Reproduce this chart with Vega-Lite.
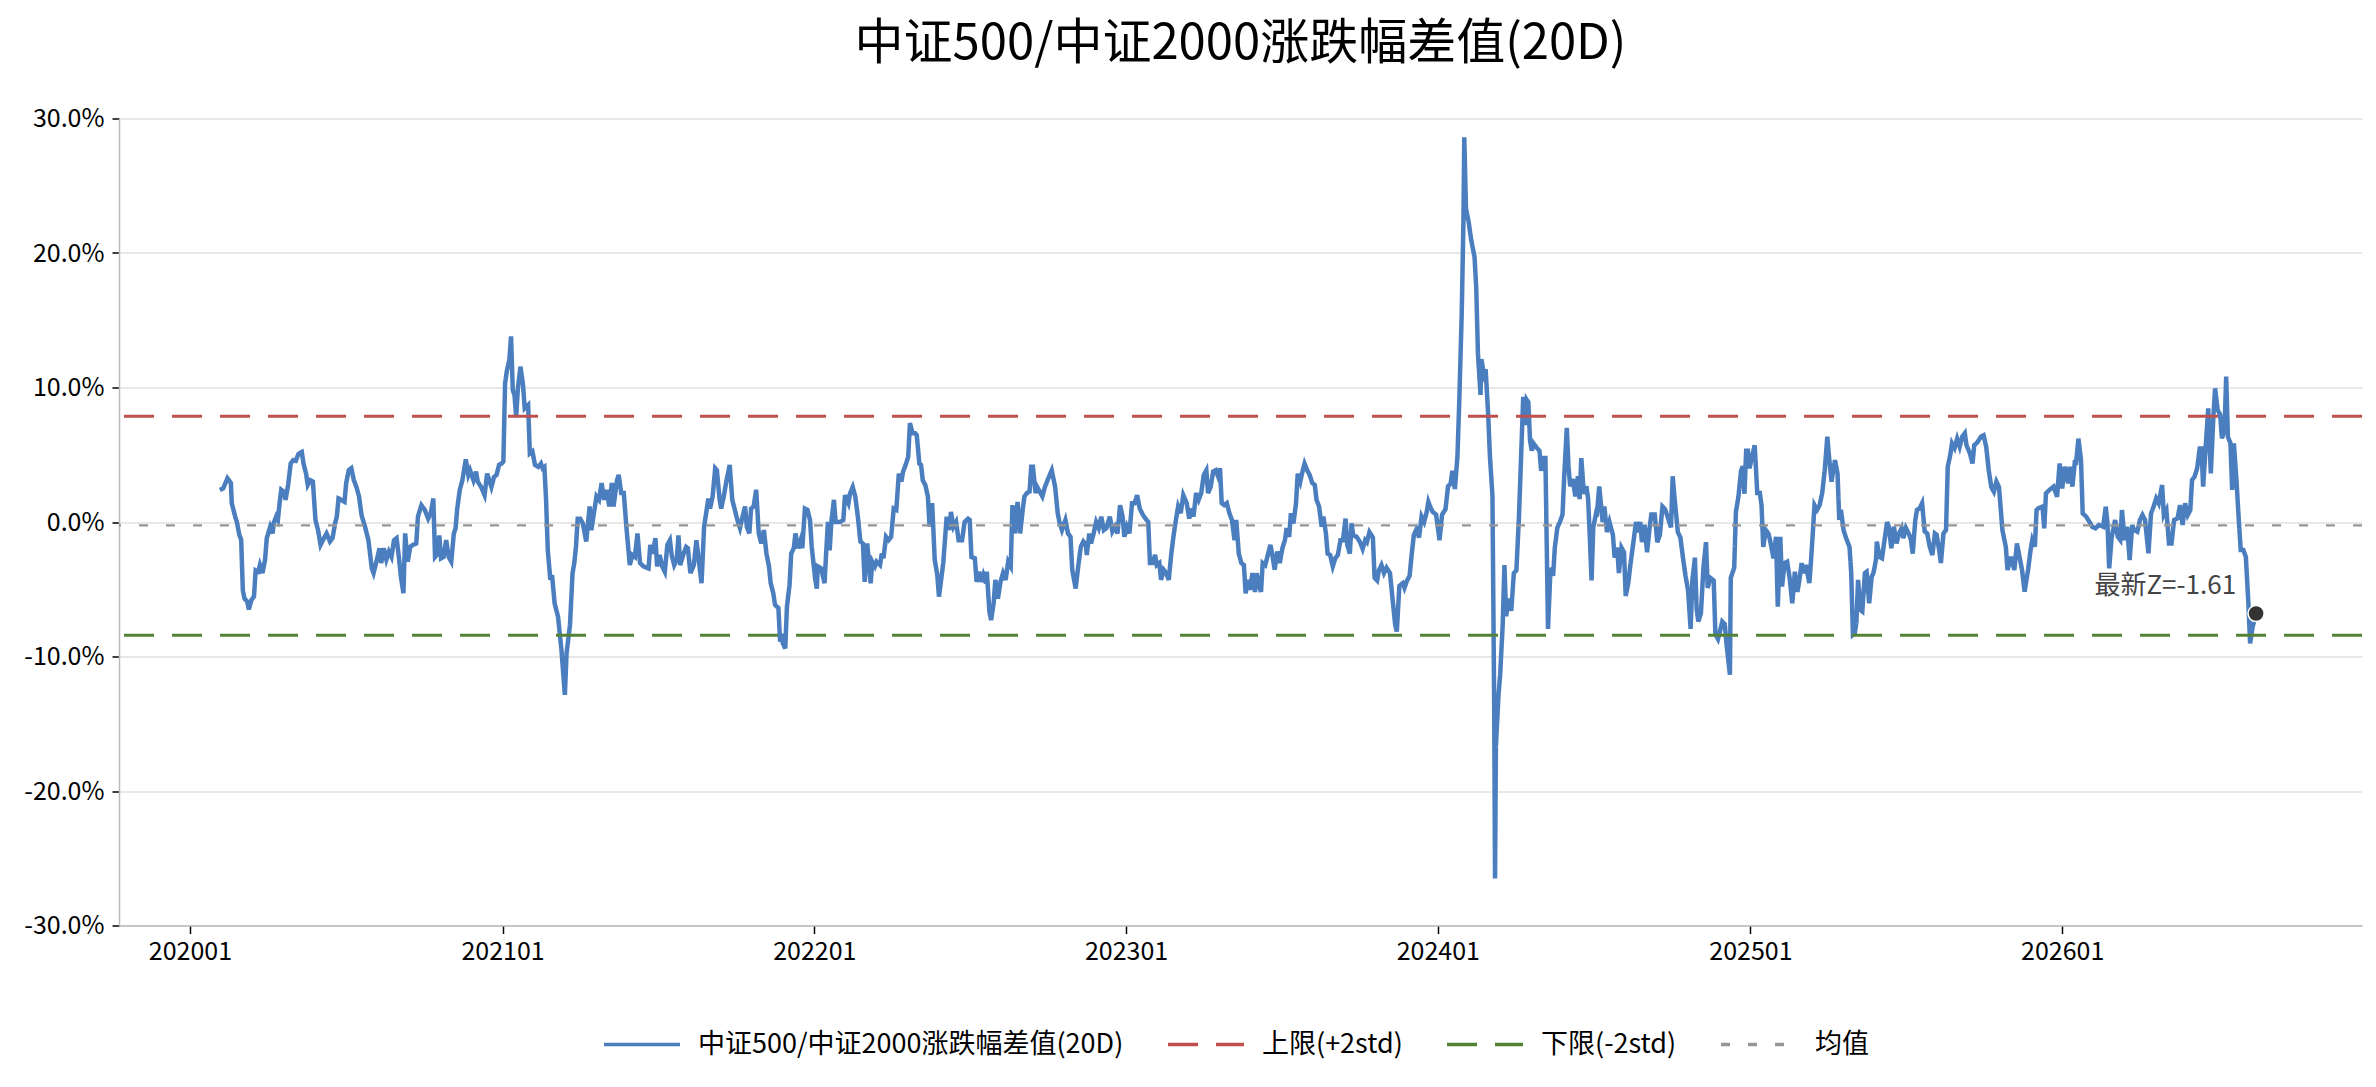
{
  "$schema": "https://vega.github.io/schema/vega-lite/v6.json",
  "width": 2243,
  "height": 807,
  "autosize": "none",
  "padding": {"left": 119, "top": 118.5, "right": 14, "bottom": 161.5},
  "background": "white",
  "title": {
    "text": "中证500/中证2000涨跌幅差值(20D)",
    "fontSize": 49,
    "fontWeight": "normal",
    "color": "#000",
    "anchor": "middle",
    "offset": 38
  },
  "layer": [
    {
      "data": {
        "format": {"parse": {"d": "date:'%Y-%j'"}},
        "values": [
          {"d":"2020-036","v":2.38},{"d":"2020-040","v":2.5},{"d":"2020-045","v":3.25},{"d":"2020-049","v":2.9},{"d":"2020-050","v":1.4},
          {"d":"2020-054","v":0.4},{"d":"2020-056","v":0},{"d":"2020-059","v":-1},{"d":"2020-061","v":-1.3},{"d":"2020-063","v":-5.1},
          {"d":"2020-065","v":-5.7},{"d":"2020-068","v":-5.9},{"d":"2020-070","v":-6.5},{"d":"2020-073","v":-5.8},{"d":"2020-076","v":-5.55},
          {"d":"2020-078","v":-3.6},{"d":"2020-081","v":-3.7},{"d":"2020-083","v":-3.2},{"d":"2020-086","v":-3.8},{"d":"2020-089","v":-2.8},
          {"d":"2020-091","v":-1.2},{"d":"2020-095","v":-0.35},{"d":"2020-098","v":-0.85},{"d":"2020-099","v":-0.1},{"d":"2020-102","v":0.4},
          {"d":"2020-104","v":0.15},{"d":"2020-106","v":1.4},{"d":"2020-108","v":2.4},{"d":"2020-111","v":2.25},{"d":"2020-113","v":1.65},
          {"d":"2020-116","v":2.75},{"d":"2020-119","v":4.35},{"d":"2020-122","v":4.6},{"d":"2020-125","v":4.55},{"d":"2020-128","v":5.05},
          {"d":"2020-132","v":5.2},{"d":"2020-134","v":4.35},{"d":"2020-137","v":3.6},{"d":"2020-139","v":2.75},{"d":"2020-142","v":3.1},
          {"d":"2020-145","v":3.0},{"d":"2020-148","v":0.15},{"d":"2020-151","v":-0.6},{"d":"2020-154","v":-1.7},{"d":"2020-158","v":-1.2},
          {"d":"2020-161","v":-0.85},{"d":"2020-165","v":-1.45},{"d":"2020-168","v":-1.2},{"d":"2020-171","v":-0.1},{"d":"2020-173","v":0.4},
          {"d":"2020-175","v":1.75},{"d":"2020-178","v":1.65},{"d":"2020-182","v":1.5},{"d":"2020-184","v":2.9},{"d":"2020-187","v":3.85},
          {"d":"2020-190","v":4.0},{"d":"2020-193","v":3.1},{"d":"2020-196","v":2.6},{"d":"2020-199","v":1.9},{"d":"2020-202","v":0.5},
          {"d":"2020-206","v":-0.35},{"d":"2020-210","v":-1.35},{"d":"2020-214","v":-3.45},{"d":"2020-216","v":-3.8},{"d":"2020-219","v":-3.05},
          {"d":"2020-223","v":-1.95},{"d":"2020-225","v":-3.05},{"d":"2020-228","v":-1.95},{"d":"2020-231","v":-2.8},{"d":"2020-234","v":-2.2},
          {"d":"2020-237","v":-2.6},{"d":"2020-240","v":-1.35},{"d":"2020-243","v":-1.2},{"d":"2020-246","v":-2.8},{"d":"2020-248","v":-4.05},
          {"d":"2020-251","v":-5.3},{"d":"2020-253","v":-0.85},{"d":"2020-256","v":-2.95},{"d":"2020-259","v":-1.85},{"d":"2020-262","v":-1.7},
          {"d":"2020-266","v":-1.6},{"d":"2020-268","v":0.4},{"d":"2020-272","v":1.25},{"d":"2020-276","v":0.9},{"d":"2020-280","v":0.25},
          {"d":"2020-283","v":0.65},{"d":"2020-286","v":1.75},{"d":"2020-288","v":-2.6},{"d":"2020-290","v":-2.45},{"d":"2020-293","v":-1.0},
          {"d":"2020-295","v":-2.7},{"d":"2020-298","v":-2.6},{"d":"2020-301","v":-1.35},{"d":"2020-304","v":-2.6},{"d":"2020-307","v":-2.95},
          {"d":"2020-310","v":-0.85},{"d":"2020-312","v":-0.5},{"d":"2020-314","v":1.0},{"d":"2020-317","v":2.4},{"d":"2020-320","v":3.1},
          {"d":"2020-324","v":4.65},{"d":"2020-327","v":3.5},{"d":"2020-329","v":3.85},{"d":"2020-333","v":3.1},{"d":"2020-336","v":3.75},
          {"d":"2020-338","v":3.0},{"d":"2020-342","v":2.6},{"d":"2020-346","v":2.0},{"d":"2020-349","v":3.6},{"d":"2020-354","v":2.6},
          {"d":"2020-357","v":3.35},{"d":"2020-360","v":3.5},{"d":"2020-363","v":4.25},{"d":"2020-366","v":4.35},
          {"d":"2021-002","v":4.5},{"d":"2021-004","v":10.3},{"d":"2021-006","v":11.2},{"d":"2021-009","v":12.05},{"d":"2021-011","v":13.8},
          {"d":"2021-013","v":9.8},{"d":"2021-015","v":9.45},{"d":"2021-017","v":7.8},{"d":"2021-019","v":9.95},{"d":"2021-022","v":11.55},
          {"d":"2021-025","v":10.2},{"d":"2021-027","v":8.45},{"d":"2021-031","v":8.7},{"d":"2021-033","v":5.1},{"d":"2021-036","v":5.25},
          {"d":"2021-039","v":4.25},{"d":"2021-043","v":4.1},{"d":"2021-046","v":4.35},{"d":"2021-048","v":4.0},{"d":"2021-050","v":4.1},
          {"d":"2021-052","v":1.65},{"d":"2021-054","v":-2.1},{"d":"2021-057","v":-4.3},{"d":"2021-059","v":-3.95},{"d":"2021-062","v":-6.05},
          {"d":"2021-066","v":-7.05},{"d":"2021-070","v":-9.5},{"d":"2021-074","v":-12.85},{"d":"2021-076","v":-9.75},{"d":"2021-080","v":-7.65},
          {"d":"2021-083","v":-3.8},{"d":"2021-085","v":-3.05},{"d":"2021-087","v":-1.85},{"d":"2021-089","v":0.25},{"d":"2021-092","v":0.25},
          {"d":"2021-095","v":-0.1},{"d":"2021-099","v":-1.45},{"d":"2021-103","v":1.15},{"d":"2021-105","v":-0.6},{"d":"2021-108","v":0.65},
          {"d":"2021-111","v":1.9},{"d":"2021-114","v":1.65},{"d":"2021-117","v":2.9},{"d":"2021-120","v":1.65},{"d":"2021-123","v":2.4},
          {"d":"2021-126","v":1.15},{"d":"2021-129","v":2.9},{"d":"2021-131","v":1.15},{"d":"2021-135","v":3.1},{"d":"2021-137","v":3.5},
          {"d":"2021-140","v":2.15},{"d":"2021-143","v":2.15},{"d":"2021-146","v":-0.35},{"d":"2021-150","v":-3.2},{"d":"2021-153","v":-2.45},
          {"d":"2021-156","v":-2.6},{"d":"2021-159","v":-0.85},{"d":"2021-162","v":-3.05},{"d":"2021-166","v":-3.3},{"d":"2021-172","v":-3.45},
          {"d":"2021-174","v":-1.7},{"d":"2021-177","v":-2.35},{"d":"2021-180","v":-1.2},{"d":"2021-182","v":-3.3},{"d":"2021-185","v":-2.45},
          {"d":"2021-188","v":-3.3},{"d":"2021-191","v":-3.7},{"d":"2021-194","v":-1.7},{"d":"2021-197","v":-1.35},{"d":"2021-199","v":-2.45},
          {"d":"2021-202","v":-3.2},{"d":"2021-205","v":-2.8},{"d":"2021-207","v":-1.0},{"d":"2021-209","v":-3.2},{"d":"2021-213","v":-2.35},
          {"d":"2021-216","v":-1.85},{"d":"2021-218","v":-1.95},{"d":"2021-221","v":-3.8},{"d":"2021-225","v":-3.2},{"d":"2021-228","v":-1.35},
          {"d":"2021-231","v":-2.95},{"d":"2021-234","v":-4.55},{"d":"2021-237","v":-0.35},{"d":"2021-240","v":0.9},{"d":"2021-242","v":1.75},
          {"d":"2021-244","v":1.0},{"d":"2021-247","v":1.9},{"d":"2021-250","v":4.0},{"d":"2021-252","v":3.85},{"d":"2021-255","v":1.75},
          {"d":"2021-257","v":1.0},{"d":"2021-260","v":1.9},{"d":"2021-263","v":3.0},{"d":"2021-267","v":4.25},{"d":"2021-270","v":1.65},
          {"d":"2021-273","v":0.9},{"d":"2021-276","v":0.15},{"d":"2021-279","v":-0.45},{"d":"2021-282","v":0.4},{"d":"2021-285","v":1.15},
          {"d":"2021-287","v":-0.35},{"d":"2021-290","v":-0.85},{"d":"2021-292","v":1.0},{"d":"2021-295","v":1.15},{"d":"2021-298","v":2.4},
          {"d":"2021-301","v":-0.85},{"d":"2021-304","v":-1.6},{"d":"2021-307","v":-0.6},{"d":"2021-310","v":-2.35},{"d":"2021-313","v":-3.3},
          {"d":"2021-315","v":-4.55},{"d":"2021-318","v":-5.3},{"d":"2021-320","v":-6.15},{"d":"2021-324","v":-6.4},{"d":"2021-326","v":-8.9},
          {"d":"2021-328","v":-8.3},{"d":"2021-329","v":-9.0},{"d":"2021-332","v":-9.4},{"d":"2021-334","v":-6.3},{"d":"2021-337","v":-4.7},
          {"d":"2021-339","v":-2.35},{"d":"2021-342","v":-1.95},{"d":"2021-344","v":-0.85},{"d":"2021-347","v":-1.95},{"d":"2021-350","v":-1.35},
          {"d":"2021-352","v":-1.95},{"d":"2021-355","v":1.0},{"d":"2021-358","v":0.9},{"d":"2021-361","v":0.15},{"d":"2021-363","v":-1.85},
          {"d":"2022-002","v":-4.2},{"d":"2022-004","v":-4.95},{"d":"2022-005","v":-3.3},{"d":"2022-009","v":-3.45},{"d":"2022-013","v":-4.55},
          {"d":"2022-015","v":-2.2},{"d":"2022-017","v":0},{"d":"2022-019","v":-2.1},{"d":"2022-021","v":0},{"d":"2022-024","v":1.65},
          {"d":"2022-026","v":0},{"d":"2022-031","v":0},{"d":"2022-035","v":0.15},{"d":"2022-037","v":2.0},{"d":"2022-041","v":1.4},
          {"d":"2022-043","v":2.15},{"d":"2022-046","v":2.6},{"d":"2022-049","v":1.9},{"d":"2022-052","v":0.4},{"d":"2022-055","v":-1.45},
          {"d":"2022-058","v":-1.6},{"d":"2022-060","v":-4.45},{"d":"2022-063","v":-1.6},{"d":"2022-065","v":-3.05},{"d":"2022-067","v":-4.55},
          {"d":"2022-069","v":-2.95},{"d":"2022-072","v":-3.3},{"d":"2022-074","v":-2.95},{"d":"2022-078","v":-3.2},{"d":"2022-080","v":-2.35},
          {"d":"2022-082","v":-2.7},{"d":"2022-085","v":-1.1},{"d":"2022-088","v":-1.35},{"d":"2022-091","v":-1.1},{"d":"2022-094","v":1.0},
          {"d":"2022-097","v":0.9},{"d":"2022-100","v":3.6},{"d":"2022-103","v":3.0},{"d":"2022-105","v":3.75},{"d":"2022-108","v":4.25},
          {"d":"2022-111","v":4.85},{"d":"2022-113","v":7.35},{"d":"2022-116","v":6.6},{"d":"2022-119","v":6.6},{"d":"2022-121","v":6.45},
          {"d":"2022-124","v":4.35},{"d":"2022-126","v":4.25},{"d":"2022-128","v":3.1},{"d":"2022-131","v":2.75},{"d":"2022-134","v":1.9},
          {"d":"2022-136","v":-0.35},{"d":"2022-139","v":1.4},{"d":"2022-142","v":-2.8},{"d":"2022-145","v":-3.95},{"d":"2022-147","v":-5.55},
          {"d":"2022-150","v":-4.05},{"d":"2022-152","v":-3.05},{"d":"2022-156","v":0.4},{"d":"2022-159","v":-0.6},{"d":"2022-161","v":0.75},
          {"d":"2022-164","v":-0.35},{"d":"2022-167","v":0},{"d":"2022-170","v":-1.35},{"d":"2022-174","v":-1.35},{"d":"2022-177","v":0},
          {"d":"2022-181","v":0.25},{"d":"2022-183","v":0.15},{"d":"2022-185","v":-2.6},{"d":"2022-189","v":-2.7},{"d":"2022-191","v":-4.45},
          {"d":"2022-194","v":-3.7},{"d":"2022-197","v":-4.45},{"d":"2022-199","v":-3.95},{"d":"2022-202","v":-4.55},{"d":"2022-203","v":-3.7},
          {"d":"2022-206","v":-6.65},{"d":"2022-208","v":-7.3},{"d":"2022-211","v":-6.05},{"d":"2022-213","v":-4.3},{"d":"2022-216","v":-5.7},
          {"d":"2022-219","v":-4.45},{"d":"2022-222","v":-3.8},{"d":"2022-225","v":-4.3},{"d":"2022-228","v":-2.95},{"d":"2022-231","v":-3.3},
          {"d":"2022-233","v":1.25},{"d":"2022-236","v":-0.85},{"d":"2022-239","v":1.5},{"d":"2022-242","v":-0.85},{"d":"2022-245","v":0.9},
          {"d":"2022-247","v":1.9},{"d":"2022-250","v":2.15},{"d":"2022-253","v":2.25},{"d":"2022-255","v":4.1},{"d":"2022-257","v":4.1},
          {"d":"2022-260","v":2.15},{"d":"2022-262","v":2.6},{"d":"2022-265","v":2.25},{"d":"2022-268","v":1.9},{"d":"2022-271","v":2.6},
          {"d":"2022-275","v":3.25},{"d":"2022-279","v":3.85},{"d":"2022-283","v":2.6},{"d":"2022-286","v":0.65},{"d":"2022-288","v":0},
          {"d":"2022-291","v":-0.6},{"d":"2022-295","v":0.15},{"d":"2022-298","v":-0.85},{"d":"2022-301","v":-1.1},{"d":"2022-303","v":-3.55},
          {"d":"2022-307","v":-4.95},{"d":"2022-310","v":-3.3},{"d":"2022-313","v":-1.85},{"d":"2022-316","v":-1.45},{"d":"2022-319","v":-1.7},
          {"d":"2022-320","v":-2.45},{"d":"2022-323","v":-0.85},{"d":"2022-325","v":-1.6},{"d":"2022-328","v":-0.85},{"d":"2022-331","v":0},
          {"d":"2022-334","v":-0.45},{"d":"2022-337","v":0.4},{"d":"2022-340","v":-0.6},{"d":"2022-343","v":-0.45},{"d":"2022-347","v":0.4},
          {"d":"2022-350","v":-0.7},{"d":"2022-353","v":-0.35},{"d":"2022-356","v":-0.85},{"d":"2022-359","v":1.25},{"d":"2022-362","v":0.4},
          {"d":"2022-364","v":-1.1},
          {"d":"2023-002","v":-0.35},{"d":"2023-005","v":-0.85},{"d":"2023-008","v":1.4},{"d":"2023-011","v":1.4},{"d":"2023-014","v":2.0},
          {"d":"2023-017","v":1.0},{"d":"2023-021","v":0.5},{"d":"2023-025","v":0.15},{"d":"2023-027","v":0},{"d":"2023-029","v":-3.05},
          {"d":"2023-032","v":-3.05},{"d":"2023-035","v":-2.45},{"d":"2023-037","v":-3.2},{"d":"2023-040","v":-3.05},{"d":"2023-042","v":-4.3},
          {"d":"2023-045","v":-3.55},{"d":"2023-048","v":-3.8},{"d":"2023-051","v":-4.3},{"d":"2023-054","v":-2.35},{"d":"2023-057","v":-0.85},
          {"d":"2023-060","v":0.4},{"d":"2023-062","v":1.15},{"d":"2023-065","v":0.65},{"d":"2023-068","v":2.0},{"d":"2023-072","v":1.4},
          {"d":"2023-075","v":0.25},{"d":"2023-077","v":1.0},{"d":"2023-080","v":0.4},{"d":"2023-083","v":2.15},{"d":"2023-086","v":1.65},
          {"d":"2023-089","v":2.15},{"d":"2023-092","v":3.5},{"d":"2023-095","v":3.85},{"d":"2023-097","v":2.15},{"d":"2023-100","v":2.6},
          {"d":"2023-103","v":3.75},{"d":"2023-106","v":3.85},{"d":"2023-109","v":3.35},{"d":"2023-111","v":4.0},{"d":"2023-113","v":1.4},
          {"d":"2023-116","v":1.25},{"d":"2023-119","v":1.4},{"d":"2023-122","v":0.65},{"d":"2023-125","v":0.15},{"d":"2023-128","v":-1.35},
          {"d":"2023-130","v":0.15},{"d":"2023-133","v":-2.35},{"d":"2023-136","v":-3.05},{"d":"2023-139","v":-3.2},{"d":"2023-141","v":-5.3},
          {"d":"2023-144","v":-4.3},{"d":"2023-146","v":-5.05},{"d":"2023-149","v":-3.8},{"d":"2023-152","v":-5.2},{"d":"2023-154","v":-3.8},
          {"d":"2023-157","v":-4.8},{"d":"2023-159","v":-5.2},{"d":"2023-161","v":-3.05},{"d":"2023-164","v":-3.2},{"d":"2023-167","v":-2.45},
          {"d":"2023-170","v":-1.7},{"d":"2023-172","v":-2.35},{"d":"2023-175","v":-3.55},{"d":"2023-178","v":-2.2},{"d":"2023-181","v":-3.05},
          {"d":"2023-184","v":-1.95},{"d":"2023-187","v":-1.35},{"d":"2023-189","v":-0.45},{"d":"2023-192","v":-1.1},{"d":"2023-194","v":0.65},
          {"d":"2023-197","v":-0.1},{"d":"2023-200","v":1.4},{"d":"2023-202","v":3.6},{"d":"2023-205","v":3.0},{"d":"2023-207","v":3.6},
          {"d":"2023-210","v":4.35},{"d":"2023-213","v":3.85},{"d":"2023-216","v":3.5},{"d":"2023-219","v":2.9},{"d":"2023-222","v":2.75},
          {"d":"2023-224","v":1.65},{"d":"2023-227","v":1.15},{"d":"2023-230","v":-0.35},{"d":"2023-232","v":0.4},{"d":"2023-235","v":-0.85},
          {"d":"2023-237","v":-2.35},{"d":"2023-240","v":-2.45},{"d":"2023-243","v":-3.3},{"d":"2023-246","v":-2.7},{"d":"2023-249","v":-2.45},
          {"d":"2023-252","v":-1.35},{"d":"2023-255","v":-1.35},{"d":"2023-258","v":0.25},{"d":"2023-260","v":-1.7},{"d":"2023-263","v":-2.35},
          {"d":"2023-265","v":-0.1},{"d":"2023-267","v":-1.0},{"d":"2023-271","v":-1.1},{"d":"2023-275","v":-1.5},{"d":"2023-278","v":-2.0},
          {"d":"2023-281","v":-1.35},{"d":"2023-283","v":-1.5},{"d":"2023-286","v":-0.75},{"d":"2023-290","v":-1.15},{"d":"2023-292","v":-4.15},
          {"d":"2023-295","v":-4.35},{"d":"2023-297","v":-3.6},{"d":"2023-300","v":-3.2},{"d":"2023-303","v":-3.8},{"d":"2023-306","v":-3.4},
          {"d":"2023-310","v":-3.8},{"d":"2023-313","v":-5.7},{"d":"2023-316","v":-7.6},{"d":"2023-318","v":-8.15},{"d":"2023-321","v":-4.75},
          {"d":"2023-325","v":-4.55},{"d":"2023-327","v":-4.9},{"d":"2023-330","v":-4.35},{"d":"2023-333","v":-4.0},{"d":"2023-335","v":-2.65},
          {"d":"2023-338","v":-0.95},{"d":"2023-341","v":-0.55},{"d":"2023-344","v":-1.15},{"d":"2023-347","v":0.4},{"d":"2023-350","v":0},
          {"d":"2023-353","v":0.75},{"d":"2023-355","v":1.5},{"d":"2023-357","v":1.15},{"d":"2023-360","v":0.75},{"d":"2023-364","v":0.55},
          {"d":"2024-003","v":-1.35},{"d":"2024-006","v":0.55},{"d":"2024-010","v":0.95},{"d":"2024-013","v":2.65},{"d":"2024-016","v":2.85},
          {"d":"2024-018","v":3.8},{"d":"2024-021","v":2.45},{"d":"2024-024","v":4.9},{"d":"2024-026","v":8.7},{"d":"2024-029","v":15.5},
          {"d":"2024-031","v":22.35},{"d":"2024-032","v":28.6},{"d":"2024-034","v":23.3},{"d":"2024-037","v":22.35},{"d":"2024-040","v":21.0},
          {"d":"2024-044","v":19.7},{"d":"2024-046","v":17.4},{"d":"2024-048","v":12.5},{"d":"2024-051","v":9.45},{"d":"2024-052","v":12.1},
          {"d":"2024-055","v":11.0},{"d":"2024-057","v":11.35},{"d":"2024-060","v":7.95},{"d":"2024-062","v":4.9},{"d":"2024-065","v":1.9},
          {"d":"2024-067","v":-13.65},{"d":"2024-068","v":-26.5},{"d":"2024-069","v":-16.7},{"d":"2024-072","v":-12.9},{"d":"2024-074","v":-11.35},
          {"d":"2024-077","v":-7.6},{"d":"2024-079","v":-3.2},{"d":"2024-081","v":-7.0},{"d":"2024-084","v":-5.7},{"d":"2024-087","v":-6.6},
          {"d":"2024-090","v":-3.8},{"d":"2024-093","v":-3.6},{"d":"2024-096","v":0.4},{"d":"2024-099","v":5.7},{"d":"2024-101","v":9.3},
          {"d":"2024-103","v":7.2},{"d":"2024-105","v":9.1},{"d":"2024-107","v":8.9},{"d":"2024-109","v":6.05},{"d":"2024-111","v":5.3},
          {"d":"2024-113","v":5.85},{"d":"2024-117","v":5.5},{"d":"2024-120","v":5.3},{"d":"2024-122","v":3.8},{"d":"2024-125","v":4.75},
          {"d":"2024-127","v":4.75},{"d":"2024-130","v":-7.95},{"d":"2024-133","v":-3.4},{"d":"2024-136","v":-4.0},{"d":"2024-138","v":-1.9},
          {"d":"2024-141","v":-0.4},{"d":"2024-144","v":0},{"d":"2024-147","v":0.55},{"d":"2024-149","v":3.4},{"d":"2024-152","v":7.0},
          {"d":"2024-154","v":4.15},{"d":"2024-156","v":2.65},{"d":"2024-159","v":3.2},{"d":"2024-162","v":1.9},{"d":"2024-165","v":3.4},
          {"d":"2024-167","v":1.7},{"d":"2024-169","v":4.75},{"d":"2024-172","v":2.1},{"d":"2024-175","v":2.65},{"d":"2024-177","v":1.7},
          {"d":"2024-179","v":-1.15},{"d":"2024-181","v":-4.35},{"d":"2024-183","v":-0.4},{"d":"2024-186","v":0.55},{"d":"2024-187","v":0.4},
          {"d":"2024-190","v":2.65},{"d":"2024-194","v":0},{"d":"2024-196","v":1.15},{"d":"2024-199","v":-0.75},{"d":"2024-202","v":0},
          {"d":"2024-206","v":-0.95},{"d":"2024-208","v":-2.65},{"d":"2024-211","v":-1.9},{"d":"2024-213","v":-3.8},{"d":"2024-216","v":-1.9},
          {"d":"2024-219","v":-2.25},{"d":"2024-221","v":-5.5},{"d":"2024-224","v":-4.55},{"d":"2024-226","v":-3.4},{"d":"2024-230","v":-1.5},
          {"d":"2024-233","v":0},{"d":"2024-235","v":-0.75},{"d":"2024-238","v":0},{"d":"2024-240","v":-1.5},{"d":"2024-243","v":-0.2},
          {"d":"2024-246","v":-2.25},{"d":"2024-249","v":-0.4},{"d":"2024-251","v":0.55},{"d":"2024-255","v":0.55},{"d":"2024-258","v":-1.5},
          {"d":"2024-261","v":-0.95},{"d":"2024-264","v":1.15},{"d":"2024-267","v":0.95},{"d":"2024-270","v":0.4},{"d":"2024-274","v":-0.4},
          {"d":"2024-276","v":3.4},{"d":"2024-278","v":1.9},{"d":"2024-282","v":-0.75},{"d":"2024-285","v":-1.15},{"d":"2024-288","v":-2.65},
          {"d":"2024-291","v":-4.0},{"d":"2024-294","v":-5.1},{"d":"2024-297","v":-7.95},{"d":"2024-299","v":-4.35},{"d":"2024-302","v":-2.65},
          {"d":"2024-304","v":-6.45},{"d":"2024-306","v":-7.4},{"d":"2024-309","v":-6.8},{"d":"2024-312","v":-3.4},{"d":"2024-315","v":-1.5},
          {"d":"2024-317","v":-4.9},{"d":"2024-320","v":-4.15},{"d":"2024-324","v":-4.35},{"d":"2024-326","v":-8.35},{"d":"2024-329","v":-8.7},
          {"d":"2024-332","v":-7.95},{"d":"2024-334","v":-7.4},{"d":"2024-337","v":-7.6},{"d":"2024-339","v":-9.1},{"d":"2024-343","v":-11.35},
          {"d":"2024-344","v":-4.15},{"d":"2024-348","v":-3.4},{"d":"2024-350","v":0.75},{"d":"2024-353","v":1.9},{"d":"2024-356","v":3.8},
          {"d":"2024-358","v":4.15},{"d":"2024-360","v":2.1},{"d":"2024-362","v":5.3},{"d":"2024-364","v":5.3},{"d":"2024-366","v":4.0},
          {"d":"2025-003","v":4.9},{"d":"2025-006","v":5.7},{"d":"2025-009","v":2.15},{"d":"2025-012","v":2.15},{"d":"2025-014","v":1.25},
          {"d":"2025-016","v":-1.85},{"d":"2025-019","v":-0.6},{"d":"2025-022","v":-0.85},{"d":"2025-024","v":-1.35},{"d":"2025-028","v":-2.7},
          {"d":"2025-031","v":-1.1},{"d":"2025-033","v":-6.3},{"d":"2025-036","v":-1.1},{"d":"2025-038","v":-4.8},{"d":"2025-041","v":-3.05},
          {"d":"2025-044","v":-2.95},{"d":"2025-047","v":-4.2},{"d":"2025-050","v":-6.05},{"d":"2025-053","v":-3.7},{"d":"2025-056","v":-5.2},
          {"d":"2025-058","v":-4.45},{"d":"2025-061","v":-3.05},{"d":"2025-063","v":-3.8},{"d":"2025-066","v":-3.2},{"d":"2025-070","v":-4.55},
          {"d":"2025-072","v":-2.8},{"d":"2025-074","v":-0.85},{"d":"2025-076","v":1.25},{"d":"2025-079","v":0.9},{"d":"2025-082","v":1.25},
          {"d":"2025-085","v":2.15},{"d":"2025-088","v":3.85},{"d":"2025-091","v":6.35},{"d":"2025-093","v":4.85},{"d":"2025-096","v":3.0},
          {"d":"2025-098","v":3.85},{"d":"2025-100","v":4.6},{"d":"2025-103","v":3.6},{"d":"2025-105","v":0.15},{"d":"2025-107","v":0.9},
          {"d":"2025-110","v":-0.6},{"d":"2025-113","v":-1.2},{"d":"2025-117","v":-1.85},{"d":"2025-119","v":-3.8},{"d":"2025-121","v":-8.4},
          {"d":"2025-123","v":-8.3},{"d":"2025-125","v":-7.55},{"d":"2025-127","v":-4.3},{"d":"2025-130","v":-6.55},{"d":"2025-132","v":-6.65},
          {"d":"2025-135","v":-3.8},{"d":"2025-137","v":-3.7},{"d":"2025-140","v":-6.05},{"d":"2025-143","v":-4.05},{"d":"2025-145","v":-3.8},
          {"d":"2025-148","v":-2.8},{"d":"2025-149","v":-1.45},{"d":"2025-152","v":-2.6},{"d":"2025-155","v":-2.7},{"d":"2025-158","v":-1.35},
          {"d":"2025-161","v":0},{"d":"2025-163","v":-0.35},{"d":"2025-166","v":-1.95},{"d":"2025-169","v":-0.35},{"d":"2025-172","v":-1.6},
          {"d":"2025-175","v":-0.85},{"d":"2025-178","v":-0.45},{"d":"2025-180","v":-1.2},{"d":"2025-183","v":-0.45},{"d":"2025-187","v":-0.95},
          {"d":"2025-189","v":-1.35},{"d":"2025-191","v":-2.35},{"d":"2025-194","v":0.15},{"d":"2025-196","v":0.9},{"d":"2025-199","v":1.0},
          {"d":"2025-202","v":1.4},{"d":"2025-205","v":-0.7},{"d":"2025-208","v":-0.85},{"d":"2025-211","v":-1.85},{"d":"2025-214","v":-2.45},
          {"d":"2025-217","v":-0.85},{"d":"2025-219","v":-0.95},{"d":"2025-222","v":-2.1},{"d":"2025-224","v":-3.05},{"d":"2025-227","v":-0.85},
          {"d":"2025-230","v":-0.6},{"d":"2025-232","v":4.1},{"d":"2025-235","v":5.0},{"d":"2025-237","v":5.85},{"d":"2025-240","v":5.5},
          {"d":"2025-243","v":6.2},{"d":"2025-246","v":5.6},{"d":"2025-249","v":6.35},{"d":"2025-252","v":6.6},{"d":"2025-254","v":5.7},
          {"d":"2025-258","v":5.1},{"d":"2025-261","v":4.35},{"d":"2025-263","v":5.7},{"d":"2025-267","v":5.95},{"d":"2025-271","v":6.35},
          {"d":"2025-274","v":6.45},{"d":"2025-277","v":5.6},{"d":"2025-280","v":3.85},{"d":"2025-283","v":2.6},{"d":"2025-286","v":2.25},
          {"d":"2025-289","v":3.0},{"d":"2025-292","v":2.6},{"d":"2025-296","v":-0.6},{"d":"2025-300","v":-1.85},{"d":"2025-302","v":-3.57},
          {"d":"2025-306","v":-2.58},{"d":"2025-310","v":-3.57},{"d":"2025-313","v":-1.59},{"d":"2025-316","v":-2.58},{"d":"2025-319","v":-3.57},
          {"d":"2025-322","v":-5.18},{"d":"2025-326","v":-3.57},{"d":"2025-329","v":-2.08},{"d":"2025-331","v":-1.34},{"d":"2025-334","v":-1.84},
          {"d":"2025-336","v":0.89},{"d":"2025-338","v":1.02},{"d":"2025-343","v":1.14},{"d":"2025-345","v":-0.47},{"d":"2025-347","v":2.13},
          {"d":"2025-351","v":2.38},{"d":"2025-356","v":2.63},{"d":"2025-360","v":1.88},{"d":"2025-363","v":4.36},
          {"d":"2026-001","v":2.5},{"d":"2026-004","v":4.11},{"d":"2026-008","v":2.87},{"d":"2026-010","v":4.11},{"d":"2026-013","v":2.63},
          {"d":"2026-016","v":4.61},{"d":"2026-017","v":4.24},{"d":"2026-020","v":6.2},{"d":"2026-023","v":4.61},{"d":"2026-025","v":0.64},
          {"d":"2026-029","v":0.4},{"d":"2026-034","v":-0.1},{"d":"2026-036","v":-0.35},{"d":"2026-040","v":-0.47},{"d":"2026-044","v":-0.22},
          {"d":"2026-049","v":-0.35},{"d":"2026-052","v":1.14},{"d":"2026-054","v":-0.1},{"d":"2026-056","v":-3.45},{"d":"2026-059","v":-1.09},
          {"d":"2026-063","v":0.15},{"d":"2026-066","v":-1.09},{"d":"2026-069","v":-1.34},{"d":"2026-071","v":0.89},{"d":"2026-074","v":-1.34},
          {"d":"2026-077","v":-0.35},{"d":"2026-080","v":-2.83},{"d":"2026-083","v":-0.22},{"d":"2026-085","v":-0.59},{"d":"2026-089","v":-0.72},
          {"d":"2026-092","v":0.15},{"d":"2026-095","v":0.52},{"d":"2026-098","v":0.15},{"d":"2026-102","v":-2.33},{"d":"2026-105","v":0.64},
          {"d":"2026-108","v":1.14},{"d":"2026-111","v":1.76},{"d":"2026-114","v":1.39},{"d":"2026-118","v":2.75},{"d":"2026-120","v":0.52},
          {"d":"2026-123","v":0.89},{"d":"2026-126","v":-1.59},{"d":"2026-129","v":-1.59},{"d":"2026-132","v":0.15},{"d":"2026-136","v":0.27},
          {"d":"2026-139","v":1.26},{"d":"2026-142","v":-0.22},{"d":"2026-145","v":1.39},{"d":"2026-148","v":0.52},{"d":"2026-151","v":0.89},
          {"d":"2026-153","v":3.12},{"d":"2026-156","v":3.37},{"d":"2026-159","v":3.99},{"d":"2026-162","v":5.47},{"d":"2026-164","v":5.47},
          {"d":"2026-166","v":2.63},{"d":"2026-168","v":4.61},{"d":"2026-170","v":6.57},{"d":"2026-172","v":8.45},{"d":"2026-175","v":3.62},
          {"d":"2026-178","v":7.83},{"d":"2026-180","v":9.94},{"d":"2026-183","v":8.33},{"d":"2026-186","v":7.96},{"d":"2026-188","v":6.22},
          {"d":"2026-191","v":6.84},{"d":"2026-193","v":10.81},{"d":"2026-195","v":6.34},{"d":"2026-198","v":5.85},{"d":"2026-200","v":2.38},
          {"d":"2026-202","v":5.85},{"d":"2026-205","v":3.12},{"d":"2026-208","v":-0.1},{"d":"2026-210","v":-2.08},{"d":"2026-213","v":-2.08},
          {"d":"2026-216","v":-2.58},{"d":"2026-219","v":-6.05},{"d":"2026-221","v":-9.02},{"d":"2026-224","v":-7.78},{"d":"2026-228","v":-6.8}
        ]
      },
      "mark": {"type": "line", "strokeWidth": 4.5},
      "encoding": {
        "x": {
          "field": "d",
          "type": "temporal",
          "scale": {"domain": [{"year": 2019, "month": 10, "date": 10}, {"year": 2026, "month": 12, "date": 18}]},
          "axis": {
            "title": null,
            "format": "%Y%m",
            "tickCount": {"interval": "year", "step": 1},
            "grid": false,
            "tickColor": "#000",
            "tickSize": 8,
            "tickWidth": 1.5,
            "domainColor": "#bbbbbb",
            "domainWidth": 1.5,
            "labelPadding": 6,
            "labelFontSize": 25,
            "labelColor": "#000"
          }
        },
        "y": {
          "field": "v",
          "type": "quantitative",
          "scale": {"domain": [-30, 30], "nice": false},
          "axis": {
            "title": null,
            "values": [-30, -20, -10, 0, 10, 20, 30],
            "labelExpr": "(datum.value < 0 ? '-' : '') + format(abs(datum.value), '.1f') + '%'",
            "grid": true,
            "gridColor": "#e0e0e0",
            "gridWidth": 1.5,
            "tickColor": "#000",
            "tickSize": 7,
            "tickWidth": 1.5,
            "domainColor": "#bbbbbb",
            "domainWidth": 1.5,
            "labelPadding": 8,
            "labelFontSize": 25,
            "labelColor": "#000"
          }
        },
        "color": {
          "datum": "中证500/中证2000涨跌幅差值(20D)",
          "title": null,
          "scale": {
            "domain": ["中证500/中证2000涨跌幅差值(20D)", "上限(+2std)", "下限(-2std)", "均值"],
            "range": ["#4a7ebf", "#c0504d", "#548235", "#969696"]
          },
          "legend": {
            "title": null,
            "orient": "none",
            "legendX": 483,
            "legendY": 886,
            "direction": "horizontal",
            "symbolType": "stroke",
            "symbolSize": 5776,
            "symbolStrokeWidth": 3.5,
            "labelFontSize": 27,
            "labelColor": "#000",
            "labelOffset": 16,
            "labelLimit": 1000,
            "columnPadding": 37
          }
        },
        "strokeDash": {
          "datum": "中证500/中证2000涨跌幅差值(20D)",
          "title": null,
          "scale": {
            "domain": ["中证500/中证2000涨跌幅差值(20D)", "上限(+2std)", "下限(-2std)", "均值"],
            "range": [[1, 0], [30, 18], [30, 18], [9, 18]]
          }
        }
      }
    },
    {
      "data": {
        "values": [
          {"name": "上限(+2std)", "v": 7.86},
          {"name": "下限(-2std)", "v": -8.42}
        ]
      },
      "mark": {"type": "rule", "strokeWidth": 3},
      "encoding": {
        "y": {"field": "v", "type": "quantitative"},
        "color": {"field": "name", "type": "nominal", "title": null},
        "strokeDash": {"field": "name", "type": "nominal", "title": null}
      }
    },
    {
      "data": {
        "values": [
          {"name": "均值", "v": -0.25}
        ]
      },
      "mark": {"type": "rule", "strokeWidth": 2.2},
      "encoding": {
        "y": {"field": "v", "type": "quantitative"},
        "color": {"field": "name", "type": "nominal", "title": null},
        "strokeDash": {"field": "name", "type": "nominal", "title": null}
      }
    },
    {
      "data": {"values": [{"d": "2026-228", "v": -6.8, "label": "最新Z=-1.61"}], "format": {"parse": {"d": "date:'%Y-%j'"}}},
      "layer": [
        {
          "mark": {"type": "circle", "size": 260, "color": "#333333", "opacity": 1, "stroke": "#ffffff", "strokeWidth": 1.5},
          "encoding": {
            "x": {"field": "d", "type": "temporal"},
            "y": {"field": "v", "type": "quantitative"}
          }
        },
        {
          "mark": {"type": "text", "align": "right", "baseline": "middle", "dx": -20, "dy": -27, "fontSize": 26, "color": "#444444"},
          "encoding": {
            "x": {"field": "d", "type": "temporal"},
            "y": {"field": "v", "type": "quantitative"},
            "text": {"field": "label"}
          }
        }
      ]
    }
  ],
  "config": {
    "font": "Noto Sans CJK SC",
    "view": {"stroke": null},
    "axis": {"labelFont": "Noto Sans CJK SC"},
    "legend": {"labelFont": "Noto Sans CJK SC"}
  }
}
